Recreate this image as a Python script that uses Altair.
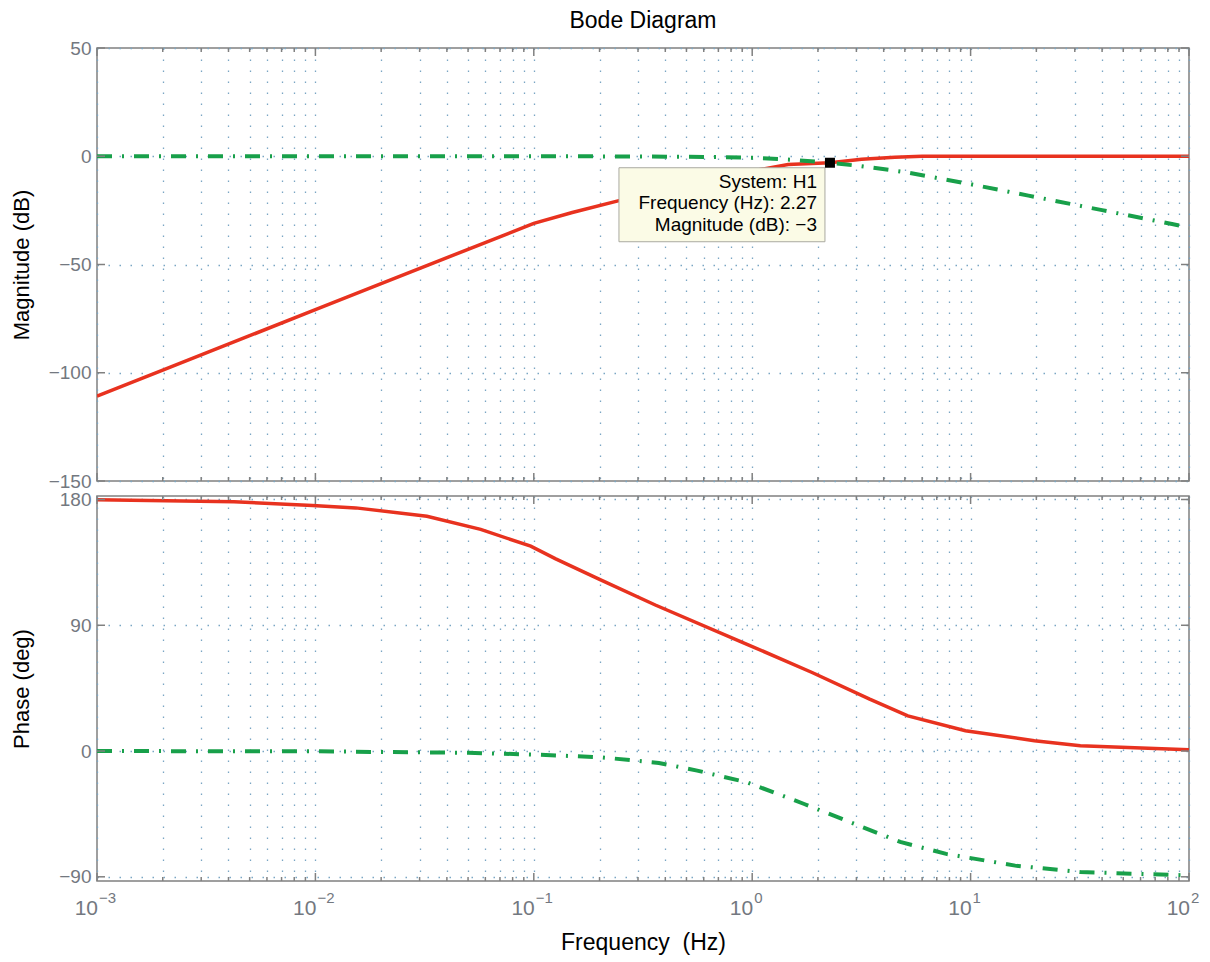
import altair as alt
import pandas as pd

FONT = "Liberation Sans"
RED = "#e8321f"
GREEN = "#18a04a"
FRAME = "#808080"
LABEL = "#737880"
GRID = "#7aa6c4"

# ---- axis ticks / labels ----
freq_major = [0.001, 0.01, 0.1, 1.0, 10.0, 100.0]
freq_base = ["10", "10", "10", "10", "10", "10"]
freq_exponent = ["\u22123", "\u22122", "\u22121", "0", "1", "2"]
freq_minor = [m * d for d in [0.001, 0.01, 0.1, 1.0, 10.0] for m in range(2, 10)]
mag_ticks = [-150, -100, -50, 0, 50]
phase_ticks = [-90, 0, 90, 180]

# ---- H1 (red, solid) ----
red_mag_freq = [0.001, 0.002, 0.005, 0.01, 0.02, 0.05, 0.1, 0.15, 0.243, 0.4, 0.6,
                1.0, 1.46, 2.27, 3.17, 4.5, 6.0, 10.0, 20.0, 50.0, 100.0]
red_mag_db = [-110.8, -98.8, -82.9, -70.8, -58.8, -43.0, -31.0, -26.0, -20.6, -15.3, -11.2,
              -6.8, -3.8, -3.0, -1.4, -0.5, 0.0, 0.0, 0.0, 0.0, 0.0]
red_ph_freq = [0.001, 0.00424, 0.0097, 0.0153, 0.0324, 0.0571, 0.0968, 0.126, 0.2, 0.36,
               0.947, 1.88, 3.45, 5.16, 9.47, 19.6, 31.8, 100.0]
red_ph_deg = [179.8, 178.4, 175.7, 174.0, 168.0, 158.6, 146.6, 137.5, 122.9, 104.5,
              76.4, 56.2, 37.1, 25.2, 14.5, 7.4, 3.8, 0.9]

# ---- second system (green, dash-dot) ----
green_mag_freq = [0.001, 0.01, 0.1, 0.3, 0.6, 1.0, 1.5, 2.27, 3.17, 5.0, 10.0, 18.4, 40.0, 83.6, 100.0]
green_mag_db = [0.0, 0.0, 0.0, -0.1, -0.3, -0.7, -1.6, -3.0, -4.6, -7.3, -12.9, -18.2, -24.9, -31.3, -32.9]
green_ph_freq = [0.001, 0.01, 0.05, 0.1, 0.204, 0.374, 0.56, 0.947, 1.73, 2.82, 4.76, 7.73, 16.0, 31.8, 100.0]
green_ph_deg = [0.0, -0.2, -1.3, -2.5, -4.5, -8.5, -14.0, -22.4, -37.9, -51.0, -65.0, -73.6, -82.0, -86.6, -89.0]

# ---- data cursor ----
marker_freq = [2.27]
marker_db = [-3]

W, H1, H2 = 1092, 433, 385

def df(f, v):
    return pd.DataFrame({"f": f, "v": v})

xscale = alt.Scale(type="log", domain=[0.001, 100], nice=False)
mag_scale = alt.Scale(domain=[-150, 50], nice=False, zero=False)
ph_scale = alt.Scale(domain=[-93, 182.5], nice=False, zero=False)
grid_vals = sorted(freq_major + freq_minor)

def grid_axis(**kw):
    return alt.Axis(values=grid_vals, labels=False, ticks=False, tickSize=0, domain=False, grid=True,
                    gridColor=GRID, gridDash=[1.5, 9.5], gridWidth=1.3, **kw)

def y_axis(title, vals, h):
    return alt.Axis(values=vals, grid=True, gridColor=GRID, gridDash=[1.5, 9.5], gridWidth=1.3,
                    ticks=False, tickSize=0, domain=False, labelPadding=6, labelFontSize=19,
                    labelColor=LABEL, labelFont=FONT, title=title, titleFontSize=22, titleFont=FONT,
                    titleColor="black", titleFontWeight="normal", titleAngle=270, titleX=-76,
                    titleY=h / 2, titleAlign="center", titleBaseline="middle")

XA_TOP = grid_axis(title=None, minExtent=0, maxExtent=0)
XA_BOT = grid_axis(title="Frequency \u00a0(Hz)", titleFontSize=23, titleFont=FONT, titleColor="black",
                   titleFontWeight="normal", titleY=61, titleBaseline="middle")
YA_TOP = y_axis("Magnitude (dB)", mag_ticks, H1)
YA_BOT = y_axis("Phase (deg)", phase_ticks, H2)

def tick_layers(xa, yscale, ya, yticks, h):
    maj = pd.DataFrame({"f": freq_major})
    mnr = pd.DataFrame({"f": freq_minor})
    yt = pd.DataFrame({"v": yticks})
    layers = []
    for d, ln in [(maj, 8), (mnr, 4)]:
        for y0, y1 in [(0, ln), (h, h - ln)]:
            layers.append(alt.Chart(d).mark_rule(color=FRAME, strokeWidth=1.5).encode(
                x=alt.X("f:Q", scale=xscale, axis=xa), y=alt.value(y0), y2=alt.value(y1)))
    for x0, x1 in [(0, 8), (W, W - 8)]:
        layers.append(alt.Chart(yt).mark_rule(color=FRAME, strokeWidth=1.5).encode(
            y=alt.Y("v:Q", scale=yscale, axis=ya), x=alt.value(x0), x2=alt.value(x1)))
    return layers

# ---------- magnitude panel ----------
def xt(): return alt.X("f:Q", scale=xscale, axis=XA_TOP)
def yt(): return alt.Y("v:Q", scale=mag_scale, axis=YA_TOP)

red_mag = alt.Chart(df(red_mag_freq, red_mag_db)).mark_line(color=RED, strokeWidth=3.5, clip=True).encode(
    x=xt(), y=yt())
green_mag = alt.Chart(df(green_mag_freq, green_mag_db)).mark_line(
    color=GREEN, strokeWidth=4, strokeDash=[15, 10, 2, 10], clip=True).encode(x=xt(), y=yt())

mk = df(marker_freq, marker_db)
mk["label"] = [f"System: H1\nFrequency (Hz): {marker_freq[0]}\nMagnitude (dB): \u2212{abs(marker_db[0])}"]
box = alt.Chart(mk).mark_rect(fill="#fbfbe6", stroke="#a9a9a0", strokeWidth=1,
                              xOffset=-211, x2Offset=-5, yOffset=5, y2Offset=79).encode(
    x=xt(), x2="f", y=yt(), y2="v")
box_text = alt.Chart(mk).mark_text(align="right", baseline="top", lineBreak="\n", lineHeight=21.7,
                                   dx=-13, dy=10, fontSize=19, font=FONT, color="black").encode(
    x=xt(), y=yt(), text="label:N")
marker = alt.Chart(mk).mark_square(size=100, color="black", opacity=1, filled=True).encode(x=xt(), y=yt())

top = alt.layer(red_mag, green_mag, *tick_layers(XA_TOP, mag_scale, YA_TOP, mag_ticks, H1),
                box, box_text, marker).properties(
    width=W, height=H1,
    title=alt.TitleParams("Bode Diagram", fontSize=23, font=FONT, fontWeight="normal", color="black",
                          anchor="middle", frame="group", offset=6))

# ---------- phase panel ----------
def xb(): return alt.X("f:Q", scale=xscale, axis=XA_BOT)
def yb(): return alt.Y("v:Q", scale=ph_scale, axis=YA_BOT)

red_ph = alt.Chart(df(red_ph_freq, red_ph_deg)).mark_line(color=RED, strokeWidth=3.5, clip=True).encode(
    x=xb(), y=yb())
green_ph = alt.Chart(df(green_ph_freq, green_ph_deg)).mark_line(
    color=GREEN, strokeWidth=4, strokeDash=[15, 10, 2, 10], clip=True).encode(x=xb(), y=yb())

lab = pd.DataFrame({"f": freq_major, "base": freq_base, "exp": freq_exponent})
lab_base = alt.Chart(lab).mark_text(align="right", baseline="middle", dx=1, fontSize=21, font=FONT,
                                    color=LABEL).encode(x=xb(), y=alt.value(H2 + 28), text="base:N")
lab_exp = alt.Chart(lab).mark_text(align="left", baseline="middle", dx=2, fontSize=15, font=FONT,
                                   color=LABEL).encode(x=xb(), y=alt.value(H2 + 17), text="exp:N")

bottom = alt.layer(red_ph, green_ph, *tick_layers(XA_BOT, ph_scale, YA_BOT, phase_ticks, H2),
                   lab_base, lab_exp).properties(width=W, height=H2)

chart = alt.vconcat(top, bottom, spacing=15, bounds="flush").properties(
    padding={"left": 1, "top": 1, "right": 0, "bottom": 0},
    background="white",
).configure_view(stroke=FRAME, strokeWidth=1.5).configure_axis(labelFont=FONT, titleFont=FONT)

chart.save("out.html", embed_options={"renderer": "svg", "actions": False})
